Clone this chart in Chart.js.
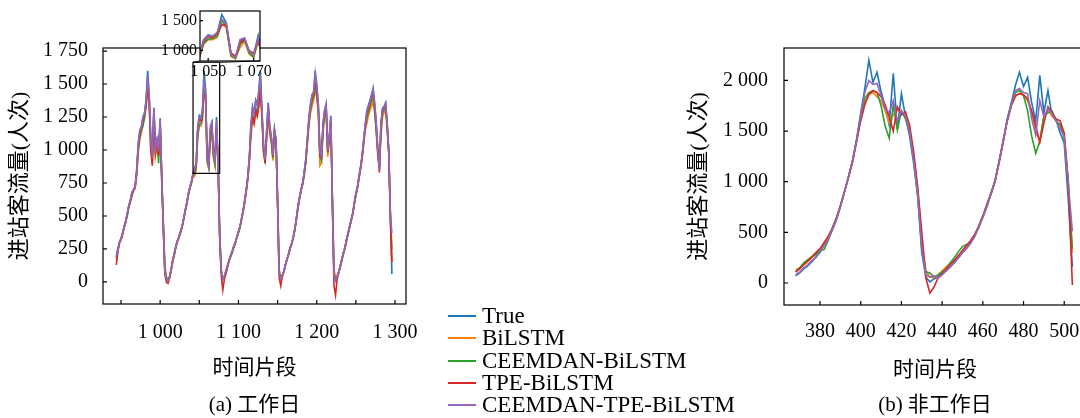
<!DOCTYPE html>
<html lang="zh">
<head>
<meta charset="utf-8">
<title>进站客流量预测</title>
<script src="https://cdn.jsdelivr.net/npm/chart.js@4.4.0/dist/chart.umd.min.js"></script>
<style>
  body { margin: 0; background: #fff; }
  #wrap { position: relative; width: 1080px; height: 418px; overflow: hidden; background: #fff; }
  #wrap canvas { position: absolute; top: 0; }
  #chartA { left: 0; }
  #chartInset { left: 140px; }
  #chartB { left: 680px; }
  #legend { position: absolute; left: 448px; top: 305px; font: 23px "Liberation Serif", "DejaVu Serif", serif; color: #000; }
  #legend .row { display: flex; align-items: center; height: 22.3px; white-space: nowrap; }
  #legend .swatch { width: 28px; height: 2px; margin-right: 6px; }
</style>
</head>
<body>
<div id="wrap">
  <canvas id="chartA" width="440" height="418"></canvas>
  <canvas id="chartInset" width="140" height="90"></canvas>
  <canvas id="chartB" width="420" height="418"></canvas>
  <div id="legend"></div>
</div>
<script>
const seriesNames = ['True', 'BiLSTM', 'CEEMDAN-BiLSTM', 'TPE-BiLSTM', 'CEEMDAN-TPE-BiLSTM'];
const seriesColors = ['#1f77b4', '#ff7f0e', '#2ca02c', '#d62728', '#9467bd'];

// -------- (a) 工作日: time slots 944..1296, every 2nd slot --------
const workStart = 944, workStep = 2;
const workTrue = [
  200,250,300,330,370,420,460,520,580,620,
  680,700,720,850,1050,1150,1180,1250,1280,1380,
  1600,1420,1100,950,1320,1020,1080,1000,1240,800,
  420,80,20,10,30,90,160,210,270,310,
  340,380,420,480,540,600,670,720,760,820,
  860,900,1180,1260,1240,1300,1600,1460,950,880,
  1150,1200,980,920,1250,900,350,80,20,40,
  80,120,160,200,230,270,300,340,380,420,
  480,540,620,700,800,950,1200,1330,1280,1380,
  1350,1450,1600,1300,1050,930,1150,1360,1180,1100,
  960,1160,1080,600,60,20,50,80,130,170,
  210,260,290,340,400,480,570,640,700,750,
  830,930,1080,1250,1350,1420,1440,1600,1500,1350,
  1000,950,1200,1300,1350,1000,1100,1260,600,50,
  10,40,70,120,170,220,260,320,370,420,
  470,520,600,670,720,800,870,960,1080,1200,
  1300,1340,1380,1420,1470,1350,1200,1000,850,1200,
  1320,1330,1360,1200,1000,500,60
];
const workBiLSTM = [
  170,240,290,330,360,410,450,510,570,610,
  650,690,710,800,980,1080,1130,1200,1250,1320,
  1450,1380,1000,900,1250,950,1020,980,1150,780,
  480,120,40,20,40,100,170,220,270,300,
  330,380,410,470,530,590,650,710,750,800,
  800,850,1100,1180,1180,1220,1450,1380,900,860,
  1050,1150,940,880,1150,880,400,100,30,40,
  90,130,170,200,230,270,300,340,380,420,
  470,530,600,680,770,900,1100,1220,1200,1280,
  1250,1350,1450,1250,1000,900,1080,1250,1120,1050,
  920,1100,1050,650,100,30,50,80,130,170,
  210,260,290,340,400,470,560,630,690,740,
  800,900,1040,1180,1280,1330,1380,1450,1400,1280,
  880,900,1120,1250,1300,950,1060,1200,650,100,
  30,50,80,120,170,220,260,310,370,420,
  460,510,590,650,710,780,850,930,1040,1150,
  1200,1260,1300,1330,1360,1280,1130,950,870,1100,
  1250,1280,1300,1150,980,550,150
];
const workCeemdan = [
  180,240,300,320,370,410,460,500,570,620,
  660,700,710,820,1000,1100,1150,1180,1240,1340,
  1480,1400,1050,930,1280,1000,1060,900,1180,760,
  450,100,30,20,40,90,150,200,260,310,
  340,370,420,470,540,590,660,710,750,810,
  820,870,1120,1190,1200,1240,1500,1400,920,870,
  1100,1180,960,890,1180,880,380,90,30,40,
  80,120,160,190,220,260,290,340,370,410,
  480,530,610,690,790,930,1150,1260,1230,1320,
  1280,1380,1500,1270,980,920,1100,1300,1150,1070,
  940,1120,1060,620,80,30,50,80,130,170,
  210,250,290,330,390,470,560,630,690,740,
  820,910,1060,1210,1310,1370,1400,1500,1420,1300,
  950,920,1150,1270,1320,980,1080,1220,620,70,
  20,40,70,110,160,210,250,310,360,410,
  470,520,590,660,710,790,860,950,1060,1170,
  1240,1290,1330,1370,1400,1300,1150,980,860,1150,
  1280,1300,1320,1170,980,520,250
];
const workTpe = [
  130,230,300,320,360,420,450,520,570,610,
  670,690,720,830,1020,1120,1160,1220,1260,1350,
  1500,1350,1000,880,1300,980,1050,960,1200,820,
  400,60,0,-10,30,90,160,210,270,310,
  340,380,420,480,540,600,660,720,760,820,
  840,880,1150,1230,1220,1280,1430,1420,960,900,
  1130,1190,1000,950,1170,920,330,50,-60,20,
  60,110,160,200,230,270,300,340,380,420,
  480,540,610,700,790,940,1160,1250,1200,1300,
  1260,1330,1480,1260,1000,900,1100,1320,1150,1080,
  950,1140,1070,580,30,-30,40,80,130,170,
  210,260,290,340,400,480,570,640,700,750,
  820,920,1070,1220,1320,1380,1420,1530,1440,1320,
  960,940,1180,1280,1330,990,1090,1230,580,-30,
  -100,20,70,120,170,220,260,320,370,420,
  470,520,600,670,720,800,870,950,1070,1180,
  1270,1310,1350,1400,1430,1330,1170,990,830,1180,
  1300,1320,1340,1180,970,480,150
];
const workCeemdanTpe = [
  190,250,300,330,370,420,460,520,580,620,
  680,700,720,840,1040,1140,1170,1240,1270,1370,
  1560,1420,1080,940,1320,1010,1080,990,1230,800,
  430,80,20,10,30,90,160,210,270,310,
  340,380,420,480,540,600,670,720,760,820,
  850,900,1170,1250,1240,1300,1520,1450,940,880,
  1180,1210,990,920,1220,900,360,80,20,40,
  80,120,160,200,230,270,300,340,380,420,
  480,540,620,700,800,950,1190,1320,1270,1370,
  1330,1440,1560,1310,1040,930,1150,1350,1180,1100,
  960,1160,1080,600,60,20,50,80,130,170,
  210,260,290,340,400,480,570,640,700,750,
  830,930,1080,1240,1340,1410,1440,1580,1480,1350,
  980,950,1190,1300,1340,1000,1100,1250,600,50,
  10,40,70,120,170,220,260,320,370,420,
  470,520,600,670,720,800,870,960,1080,1190,
  1290,1330,1370,1410,1460,1350,1200,1000,850,1200,
  1310,1330,1350,1200,1000,520,370
];
const workXTicks = [950, 1000, 1050, 1100, 1150, 1200, 1250, 1300];
const workYTicks = [0, 250, 500, 750, 1000, 1250, 1500, 1750];
const insetXTicks = [1050, 1070];
const insetYTicks = [1000, 1500];
const zoomBox = { x0: 1042, x1: 1076, y0: 823, y1: 1665 };

// -------- (b) 非工作日: time slots 368..504, every 2nd slot --------
const restStart = 368, restStep = 2;
const restTrue = [
  70,100,140,170,210,260,300,380,430,520,
  620,750,900,1050,1200,1420,1680,1920,2200,1980,
  2080,1890,1740,1560,2070,1520,1870,1640,1450,1180,
  860,300,60,10,40,60,100,120,160,200,
  250,300,340,400,460,550,650,750,880,1000,
  1200,1400,1620,1780,1950,2080,1940,2030,1780,1600,
  2050,1680,1900,1650,1610,1480,1380,820,160
];
const restBiLSTM = [
  130,150,180,210,250,290,330,380,440,530,
  630,760,900,1050,1210,1400,1620,1780,1860,1880,
  1840,1800,1700,1580,1660,1720,1680,1650,1500,1250,
  900,450,120,60,50,80,120,160,200,230,
  270,320,370,410,460,560,660,780,880,1000,
  1190,1400,1600,1750,1840,1870,1850,1800,1680,1500,
  1400,1650,1700,1650,1600,1560,1450,1000,300
];
const restCeemdan = [
  110,150,200,230,260,280,320,330,420,540,
  640,760,900,1050,1210,1420,1650,1820,1880,1900,
  1880,1750,1550,1430,1760,1510,1700,1620,1500,1250,
  850,350,110,100,60,80,110,140,200,250,
  310,360,380,400,470,560,660,770,890,1010,
  1200,1400,1610,1770,1880,1900,1850,1700,1450,1280,
  1400,1650,1680,1700,1600,1560,1430,950,340
];
const restTpe = [
  110,140,180,220,260,300,340,400,460,540,
  640,760,900,1040,1200,1400,1600,1760,1860,1900,
  1880,1840,1760,1640,1500,1740,1660,1690,1560,1300,
  950,500,50,-100,-40,50,90,140,180,220,
  270,320,370,420,480,560,660,770,880,1010,
  1190,1390,1600,1750,1850,1870,1860,1820,1700,1550,
  1390,1580,1740,1680,1620,1600,1480,1000,-20
];
const restCeemdanTpe = [
  80,110,150,180,220,250,310,370,430,530,
  630,750,900,1050,1210,1410,1650,1880,2000,1960,
  1970,1850,1720,1680,1800,1600,1700,1650,1500,1220,
  880,350,80,60,70,50,80,120,160,200,
  250,300,340,390,460,550,650,760,880,1010,
  1200,1400,1610,1760,1900,1920,1880,1870,1620,1460,
  1800,1640,1720,1670,1600,1520,1450,980,510
];
const restXTicks = [380, 400, 420, 440, 460, 480, 500];
const restYTicks = [0, 500, 1000, 1500, 2000];

const SERIF = '"Liberation Serif", "DejaVu Serif", serif';
const SERIF_CJK = '"Liberation Serif", "Noto Sans CJK SC", serif';

// "1750" -> "1 750"
function fmt(v) { return String(v).replace(/\B(?=(\d{3})+(?!\d))/g, ' '); }

function makeDatasets(start, step, list) {
  return list.map((vals, k) => ({
    label: seriesNames[k],
    data: vals.map((v, i) => ({ x: start + i * step, y: v })),
    borderColor: seriesColors[k],
    borderWidth: 1.6,
    pointRadius: 0,
    tension: 0,
    order: list.length - k   // later models drawn on top
  }));
}

function axis(o) {
  return {
    type: 'linear',
    min: o.min,
    max: o.max,
    afterBuildTicks: s => { s.ticks = o.ticks.map(v => ({ value: v })); },
    afterFit: s => {
      if (o.width) s.width = o.width;
      if (o.height) s.height = o.height;
    },
    grid: { display: false, drawTicks: false },
    border: { display: false },
    ticks: {
      padding: o.pad,
      autoSkip: false,
      maxRotation: 0,
      minRotation: 0,
      color: '#000',
      font: { family: SERIF, size: o.size || 20, lineHeight: o.lineHeight || 1.2 },
      callback: o.label || (v => fmt(v))
    },
    title: o.title ? {
      display: true,
      text: o.title,
      color: '#000',
      font: { family: SERIF_CJK, size: o.titleSize },
      padding: o.titlePad
    } : { display: false }
  };
}

// box, inward ticks, zoom rectangle and caption
const framePlugin = {
  id: 'frame',
  beforeDraw(chart, args, opts) {
    if (!opts.fill) return;
    const { ctx, chartArea: a } = chart;
    ctx.save();
    ctx.fillStyle = opts.fill;
    ctx.fillRect(a.left, a.top, a.width, a.height);
    ctx.restore();
  },
  afterDatasetsDraw(chart, args, opts) {
    const { ctx, chartArea: a, scales: { x, y } } = chart;
    const tick = opts.tick || 4;
    ctx.save();
    ctx.strokeStyle = '#000';
    ctx.lineWidth = 1.2;
    ctx.beginPath();
    x.ticks.forEach(t => {
      const px = x.getPixelForValue(t.value);
      ctx.moveTo(px, a.bottom);
      ctx.lineTo(px, a.bottom - tick);
    });
    y.ticks.forEach(t => {
      const py = y.getPixelForValue(t.value);
      ctx.moveTo(a.left, py);
      ctx.lineTo(a.left + tick, py);
    });
    ctx.stroke();
    ctx.strokeRect(a.left, a.top, a.width, a.height);
    if (opts.box) {
      const l = x.getPixelForValue(opts.box.x0), r = x.getPixelForValue(opts.box.x1);
      const t = y.getPixelForValue(opts.box.y1), b = y.getPixelForValue(opts.box.y0);
      ctx.strokeRect(l, t, r - l, b - t);
    }
    if (opts.caption) {
      ctx.fillStyle = '#000';
      ctx.font = '21px ' + SERIF_CJK;
      ctx.textAlign = 'center';
      ctx.textBaseline = 'middle';
      ctx.fillText(opts.caption, (a.left + a.right) / 2, opts.captionY);
    }
    ctx.restore();
  }
};

let workChart = null;

// lines from the inset's lower corners to the zoom rectangle in the main plot
const linkPlugin = {
  id: 'link',
  afterDraw(chart) {
    if (!workChart) return;
    const { ctx, chartArea: a } = chart;
    const mx = workChart.scales.x, my = workChart.scales.y;
    const dx = chart.canvas.offsetLeft - workChart.canvas.offsetLeft;
    const dy = chart.canvas.offsetTop - workChart.canvas.offsetTop;
    const left = mx.getPixelForValue(zoomBox.x0) - dx;
    const right = mx.getPixelForValue(zoomBox.x1) - dx;
    const top = my.getPixelForValue(zoomBox.y1) - dy;
    ctx.save();
    ctx.strokeStyle = '#000';
    ctx.lineWidth = 1;
    ctx.beginPath();
    ctx.moveTo(a.left, a.bottom); ctx.lineTo(left, top);
    ctx.moveTo(a.right, a.bottom); ctx.lineTo(right, top);
    ctx.stroke();
    ctx.restore();
  }
};

const baseOptions = {
  responsive: false,
  animation: false,
  devicePixelRatio: 1,
  events: []
};

const workSeries = [workTrue, workBiLSTM, workCeemdan, workTpe, workCeemdanTpe];
const restSeries = [restTrue, restBiLSTM, restCeemdan, restTpe, restCeemdanTpe];

// -------- (a) main plot --------
workChart = new Chart(document.getElementById('chartA'), {
  type: 'line',
  data: { datasets: makeDatasets(workStart, workStep, workSeries) },
  options: {
    ...baseOptions,
    layout: { padding: { left: 0, top: 48, right: 34, bottom: 0 } },
    scales: {
      x: axis({ min: 927, max: 1314, ticks: workXTicks, height: 114, pad: 17,
                label: v => (v % 100 === 0 ? fmt(v) : ''),
                title: '时间片段', titleSize: 21, titlePad: { top: 0, bottom: 37 } }),
      y: axis({ min: -167, max: 1773, ticks: workYTicks, width: 103, pad: 15,
                title: '进站客流量(人次)', titleSize: 22, titlePad: { top: 7, bottom: 0 } })
    },
    plugins: {
      legend: { display: false },
      tooltip: { enabled: false },
      frame: { tick: 4, box: zoomBox, caption: '(a) 工作日', captionY: 405 }
    }
  },
  plugins: [framePlugin]
});

// -------- (a) inset --------
new Chart(document.getElementById('chartInset'), {
  type: 'line',
  data: { datasets: makeDatasets(workStart, workStep, workSeries) },
  options: {
    ...baseOptions,
    layout: { padding: { left: 0, top: 9, right: 20, bottom: 0 } },
    scales: {
      x: axis({ min: 1046.4, max: 1072.8, ticks: insetXTicks, height: 29, pad: 3, size: 16, lineHeight: 1 }),
      y: axis({ min: 823, max: 1661, ticks: insetYTicks, width: 60, pad: 3, size: 16, lineHeight: 1 })
    },
    plugins: {
      legend: { display: false },
      tooltip: { enabled: false },
      frame: { tick: 3, fill: '#fff' }
    }
  },
  plugins: [framePlugin, linkPlugin]
});

// -------- (b) --------
new Chart(document.getElementById('chartB'), {
  type: 'line',
  data: { datasets: makeDatasets(restStart, restStep, restSeries) },
  options: {
    ...baseOptions,
    layout: { padding: { left: 0, top: 48, right: 14, bottom: 0 } },
    scales: {
      x: axis({ min: 362.3, max: 510.7, ticks: restXTicks, height: 113, pad: 15,
                title: '时间片段', titleSize: 21, titlePad: { top: 0, bottom: 35 } }),
      y: axis({ min: -217, max: 2320, ticks: restYTicks, width: 104, pad: 16,
                title: '进站客流量(人次)', titleSize: 22, titlePad: { top: 6, bottom: 0 } })
    },
    plugins: {
      legend: { display: false },
      tooltip: { enabled: false },
      frame: { tick: 4, caption: '(b) 非工作日', captionY: 405 }
    }
  },
  plugins: [framePlugin]
});

// -------- Legend --------
const legendEl = document.getElementById('legend');
seriesNames.forEach((name, k) => {
  const row = document.createElement('div');
  row.className = 'row';
  const sw = document.createElement('span');
  sw.className = 'swatch';
  sw.style.background = seriesColors[k];
  row.appendChild(sw);
  row.appendChild(document.createTextNode(name));
  legendEl.appendChild(row);
});
</script>
</body>
</html>
